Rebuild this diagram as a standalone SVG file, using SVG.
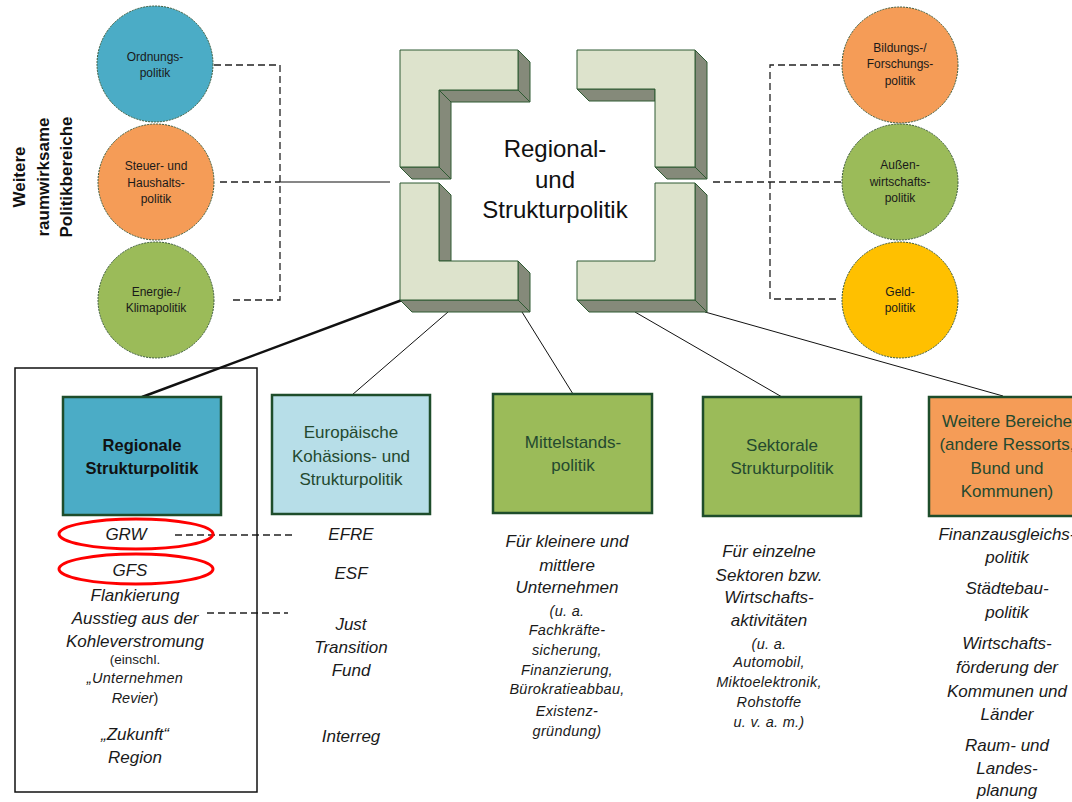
<svg xmlns="http://www.w3.org/2000/svg" width="1072" height="802" viewBox="0 0 1072 802">
  <style>
    text { font-family: "Liberation Sans", Arial, sans-serif; }
    .circ { stroke: #3d5c3d; stroke-width: 1; stroke-dasharray: 2 1; }
    .ctxt { font-size: 12px; fill: #1a1a1a; text-anchor: middle; }
    .front { fill: #dde3cc; stroke: #2e5a32; stroke-width: 1; }
    .side { fill: #858a7a; stroke: #2e5a32; stroke-width: 1; }
    .box { stroke: #1e4d2b; stroke-width: 2.5; }
    .btxt { font-size: 17px; fill: #24492f; text-anchor: middle; }
    .it { font-style: italic; font-size: 17px; fill: #1a1a1a; text-anchor: middle; }
    .its { font-style: italic; font-size: 14.5px; fill: #1a1a1a; text-anchor: middle; letter-spacing: 0.3px; }
    .dash { fill: none; stroke: #222; stroke-width: 1.3; stroke-dasharray: 7 4; }
    .thin { stroke: #111; stroke-width: 1; fill: none; }
  </style>

  <!-- side label -->
  <g id="label-weitere" font-weight="bold" font-size="17" fill="#111" text-anchor="middle">
    <g transform="translate(25,177) rotate(-90)">
      <text x="0" y="0">Weitere</text>
      <text x="0" y="23.5">raumwirksame</text>
      <text x="0" y="47">Politikbereiche</text>
    </g>
  </g>

  <!-- connectors -->
  <g id="connectors">
    <path class="dash" d="M214 65 H280 V300 H233"/>
    <path class="dash" d="M220 182 H280"/>
    <path d="M280 182 H390" stroke="#111" stroke-width="1.2"/>
    <path class="dash" d="M840 65 H770 V299 H838"/>
    <path class="dash" d="M713 182 H842"/>
    <path d="M402 300 L142 397" stroke="#111" stroke-width="2.5"/>
    <path class="thin" d="M448 312 L352 395"/>
    <path class="thin" d="M522 312 L573 394"/>
    <path class="thin" d="M635 312 L782 397"/>
    <path class="thin" d="M705 312 L1003 396"/>
    <path class="dash" d="M175 535 H293"/>
    <path class="dash" d="M207 613 H288"/>
  </g>

  <!-- left circles -->
  <g id="ordnungspolitik">
    <circle class="circ" cx="155" cy="64" r="58" fill="#4bacc6"/>
    <text class="ctxt" x="155" y="61">Ordnungs-</text>
    <text class="ctxt" x="155" y="77">politik</text>
  </g>
  <g id="steuerpolitik">
    <circle class="circ" cx="156" cy="182" r="58" fill="#f59c57"/>
    <text class="ctxt" x="156" y="170">Steuer- und</text>
    <text class="ctxt" x="156" y="187">Haushalts-</text>
    <text class="ctxt" x="156" y="203">politik</text>
  </g>
  <g id="energiepolitik">
    <circle class="circ" cx="156" cy="300" r="58" fill="#9bbb59"/>
    <text class="ctxt" x="156" y="296">Energie-/</text>
    <text class="ctxt" x="156" y="312">Klimapolitik</text>
  </g>

  <!-- right circles -->
  <g id="bildungspolitik">
    <circle class="circ" cx="900" cy="65" r="58" fill="#f59c57"/>
    <text class="ctxt" x="900" y="52">Bildungs-/</text>
    <text class="ctxt" x="900" y="68">Forschungs-</text>
    <text class="ctxt" x="900" y="85">politik</text>
  </g>
  <g id="aussenwirtschaftspolitik">
    <circle class="circ" cx="900" cy="182" r="58" fill="#9bbb59"/>
    <text class="ctxt" x="900" y="169">Außen-</text>
    <text class="ctxt" x="900" y="186">wirtschafts-</text>
    <text class="ctxt" x="900" y="202">politik</text>
  </g>
  <g id="geldpolitik">
    <circle class="circ" cx="900" cy="300" r="58" fill="#ffc000"/>
    <text class="ctxt" x="900" y="296">Geld-</text>
    <text class="ctxt" x="900" y="312">politik</text>
  </g>

  <!-- central frame made of four extruded corner pieces -->
  <g id="regional-strukturpolitik">
    <!-- top left -->
    <polygon class="side" points="518,50 530,62 530,102 518,90"/>
    <polygon class="side" points="439,90 518,90 530,102 451,102"/>
    <polygon class="side" points="439,90 451,102 451,179 439,167"/>
    <polygon class="side" points="400,167 439,167 451,179 412,179"/>
    <polygon class="front" points="400,50 518,50 518,90 439,90 439,167 400,167"/>
    <!-- bottom left -->
    <polygon class="side" points="439,183 451,195 451,261 439,261"/>
    <polygon class="side" points="518,261 530,273 530,312 518,300"/>
    <polygon class="side" points="400,300 518,300 530,312 412,312"/>
    <polygon class="front" points="400,183 439,183 439,261 518,261 518,300 400,300"/>
    <!-- top right -->
    <polygon class="side" points="695,50 707,62 707,179 695,167"/>
    <polygon class="side" points="577,89 655,89 655,101 589,101"/>
    <polygon class="side" points="655,167 695,167 707,179 667,179"/>
    <polygon class="front" points="577,50 695,50 695,167 655,167 655,89 577,89"/>
    <!-- bottom right -->
    <polygon class="side" points="695,183 707,195 707,312 695,300"/>
    <polygon class="side" points="577,300 695,300 707,312 589,312"/>
    <polygon class="front" points="655,183 695,183 695,300 577,300 577,261 655,261"/>
    <g font-size="24" fill="#111" text-anchor="middle">
      <text x="555" y="157">Regional-</text>
      <text x="555" y="188">und</text>
      <text x="555" y="218">Strukturpolitik</text>
    </g>
  </g>

  <!-- regionale Strukturpolitik column -->
  <g id="regionale-strukturpolitik">
    <rect x="15" y="368" width="242" height="424" fill="none" stroke="#111" stroke-width="1.5"/>
    <rect class="box" x="63" y="397" width="158" height="118" fill="#4bacc6"/>
    <text x="142" y="451" font-size="16.5" font-weight="bold" fill="#111" text-anchor="middle">Regionale</text>
    <text x="142" y="474" font-size="16.5" font-weight="bold" fill="#111" text-anchor="middle">Strukturpolitik</text>
    <ellipse cx="136" cy="534" rx="77" ry="15" fill="none" stroke="#f00" stroke-width="3"/>
    <ellipse cx="136" cy="569" rx="77" ry="15" fill="none" stroke="#f00" stroke-width="3"/>
    <text class="it" x="126" y="540">GRW</text>
    <text class="it" x="130" y="576">GFS</text>
    <text class="it" x="135" y="601">Flankierung</text>
    <text class="it" x="135" y="624">Ausstieg aus der</text>
    <text class="it" x="135" y="647">Kohleverstromung</text>
    <text x="135" y="664" font-size="13.5" fill="#1a1a1a" text-anchor="middle">(einschl.</text>
    <text class="its" x="135" y="683">„Unternehmen</text>
    <text x="135" y="703" font-size="14.5" fill="#1a1a1a" text-anchor="middle"><tspan font-style="italic">Revier</tspan>)</text>
    <text class="it" x="135" y="740">„Zukunft“</text>
    <text class="it" x="135" y="763">Region</text>
  </g>

  <!-- Europäische Kohäsions- und Strukturpolitik -->
  <g id="eu-kohaesionspolitik">
    <rect class="box" x="272" y="395" width="158" height="119" fill="#b7dee8"/>
    <text class="btxt" x="351" y="438">Europäische</text>
    <text class="btxt" x="351" y="462">Kohäsions- und</text>
    <text class="btxt" x="351" y="485">Strukturpolitik</text>
    <text class="it" x="351" y="540">EFRE</text>
    <text class="it" x="351" y="579">ESF</text>
    <text class="it" x="351" y="630">Just</text>
    <text class="it" x="351" y="653">Transition</text>
    <text class="it" x="351" y="676">Fund</text>
    <text class="it" x="351" y="742">Interreg</text>
  </g>

  <!-- Mittelstandspolitik -->
  <g id="mittelstandspolitik">
    <rect class="box" x="493" y="394" width="159" height="119" fill="#9bbb59"/>
    <text class="btxt" x="573" y="448">Mittelstands-</text>
    <text class="btxt" x="573" y="471">politik</text>
    <text class="it" x="567" y="547">Für kleinere und</text>
    <text class="it" x="567" y="571">mittlere</text>
    <text class="it" x="567" y="593">Unternehmen</text>
    <text class="its" x="567" y="616">(u. a.</text>
    <text class="its" x="567" y="635">Fachkräfte-</text>
    <text class="its" x="567" y="655">sicherung,</text>
    <text class="its" x="567" y="675">Finanzierung,</text>
    <text class="its" x="567" y="694">Bürokratieabbau,</text>
    <text class="its" x="567" y="716">Existenz-</text>
    <text class="its" x="567" y="736">gründung)</text>
  </g>

  <!-- Sektorale Strukturpolitik -->
  <g id="sektorale-strukturpolitik">
    <rect class="box" x="703" y="397" width="158" height="119" fill="#9bbb59"/>
    <text class="btxt" x="782" y="451">Sektorale</text>
    <text class="btxt" x="782" y="474">Strukturpolitik</text>
    <text class="it" x="769" y="557">Für einzelne</text>
    <text class="it" x="769" y="581">Sektoren bzw.</text>
    <text class="it" x="769" y="603">Wirtschafts-</text>
    <text class="it" x="769" y="626">aktivitäten</text>
    <text class="its" x="769" y="649">(u. a.</text>
    <text class="its" x="769" y="667">Automobil,</text>
    <text class="its" x="769" y="687">Miktoelektronik,</text>
    <text class="its" x="769" y="707">Rohstoffe</text>
    <text class="its" x="769" y="727">u. v. a. m.)</text>
  </g>

  <!-- Weitere Bereiche -->
  <g id="weitere-bereiche">
    <rect class="box" x="929" y="397" width="158" height="119" fill="#f59c57"/>
    <text class="btxt" x="1007" y="427">Weitere Bereiche</text>
    <text class="btxt" x="1007" y="450">(andere Ressorts,</text>
    <text class="btxt" x="1007" y="474">Bund und</text>
    <text class="btxt" x="1007" y="497">Kommunen)</text>
    <text class="it" x="1007" y="540">Finanzausgleichs-</text>
    <text class="it" x="1007" y="563">politik</text>
    <text class="it" x="1007" y="594">Städtebau-</text>
    <text class="it" x="1007" y="618">politik</text>
    <text class="it" x="1007" y="649">Wirtschafts-</text>
    <text class="it" x="1007" y="673">förderung der</text>
    <text class="it" x="1007" y="697">Kommunen und</text>
    <text class="it" x="1007" y="720">Länder</text>
    <text class="it" x="1007" y="751">Raum- und</text>
    <text class="it" x="1007" y="774">Landes-</text>
    <text class="it" x="1007" y="796">planung</text>
  </g>
</svg>
